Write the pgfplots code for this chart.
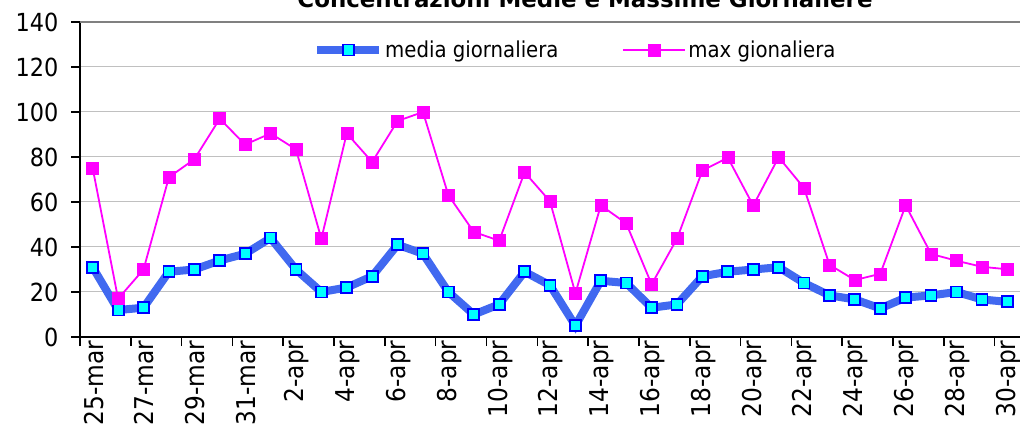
\documentclass[border=0pt]{standalone}
\usepackage{pgfplots}
\pgfplotsset{compat=1.18}
\usepackage{pgfplotstable}
\usepackage{fontspec}
\setmainfont{DejaVu Sans Condensed}
\newfontfamily\titlefont{DejaVu Sans}
\definecolor{mblue}{RGB}{65,105,240}
\definecolor{mcyan}{RGB}{0,255,255}
\definecolor{mmag}{RGB}{255,0,255}
\definecolor{gridg}{RGB}{192,192,192}
\pgfplotstableread{
x media max
0 31 75
1 12 17
2 13 30
3 29 71
4 30 79
5 34 97
6 37 85.5
7 44 90.5
8 30 83.4
9 20 43.7
10 22 90.5
11 27 77.8
12 41 96
13 37 100
14 20 63
15 10 46.7
16 14.5 42.8
17 29 73.2
18 23 60.3
19 5 19.4
20 25 58.5
21 24 50.5
22 13 23.4
23 14.5 43.7
24 27 74
25 29 79.7
26 30 58.4
27 31 79.9
28 24 66.2
29 18.5 32.1
30 16.7 25.3
31 12.7 28.1
32 17.5 58.5
33 18.5 36.9
34 20 33.9
35 16.7 31.2
36 15.6 30.1
}\datatable
\begin{document}
\begin{tikzpicture}
\begin{axis}[
  at={(80bp,88bp)}, anchor=south west,
  scale only axis, width=940bp, height=315bp,
  xmin=-0.5, xmax=36.5, ymin=0, ymax=140,
  axis x line*=bottom, axis y line*=left,
  axis line style={black, line width=2bp},
  axis lines/.append style={-},
  ytick={0,20,...,140},
  ymajorgrids, major grid style={gridg, line width=1bp},
  y tick style={black, line width=1.6bp},
  tick align=outside,
  major tick length=9bp,
  /pgf/number format/assume math mode=true,
  yticklabel style={font=\fontsize{25}{29}\selectfont, xshift=-9bp},
  xtick={-0.5,1.5,...,35.5},
  xticklabels={},
  x tick style={black, line width=1.6bp},
  extra x ticks={0,2,...,36},
  extra x tick labels={25-mar,27-mar,29-mar,31-mar,2-apr,4-apr,6-apr,8-apr,10-apr,12-apr,14-apr,16-apr,18-apr,20-apr,22-apr,24-apr,26-apr,28-apr,30-apr},
  extra x tick style={major tick length=0bp, tick style={draw=none},
    xticklabel style={rotate=90, anchor=east, font=\fontsize{26}{30}\selectfont, yshift=-1bp, xshift=0bp}},
  clip=false,
  legend columns=2,
  legend style={at={(0.527,0.911)}, anchor=center, draw=none, fill=white,
    font=\fontsize{22}{26}\selectfont, inner xsep=22bp, inner ysep=4bp,
    /tikz/every even column/.append style={column sep=62bp}},
  legend cell align=left,
  legend image code/.code={\draw[mark repeat=2,mark phase=2,#1] plot coordinates {(0bp,0bp) (31bp,0bp) (62bp,0bp)};},
]
\addplot[mblue, line width=8bp, mark=square*, mark size=5.5bp,
  mark options={fill=mcyan, draw=blue, line width=1.8bp, solid}] table[x=x,y=media]{\datatable};
\addlegendentry{media giornaliera}
\addplot[mmag, line width=1.8bp, mark=square*, mark size=6bp,
  mark options={fill=mmag, draw=mmag, line width=0.5bp}] table[x=x,y=max]{\datatable};
\addlegendentry{max gionaliera}
\draw[gray, line width=1.5bp] (axis cs:-0.5,140) -- (axis cs:36.5,140);
\end{axis}
\node[font=\titlefont\bfseries\fontsize{23}{27}\selectfont, anchor=base] at (585bp,417bp) {Concentrazioni Medie e Massime Giornaliere};
\pgfresetboundingbox
\path[use as bounding box] (0bp,0bp) rectangle (1020bp,425bp);
\end{tikzpicture}
\end{document}
